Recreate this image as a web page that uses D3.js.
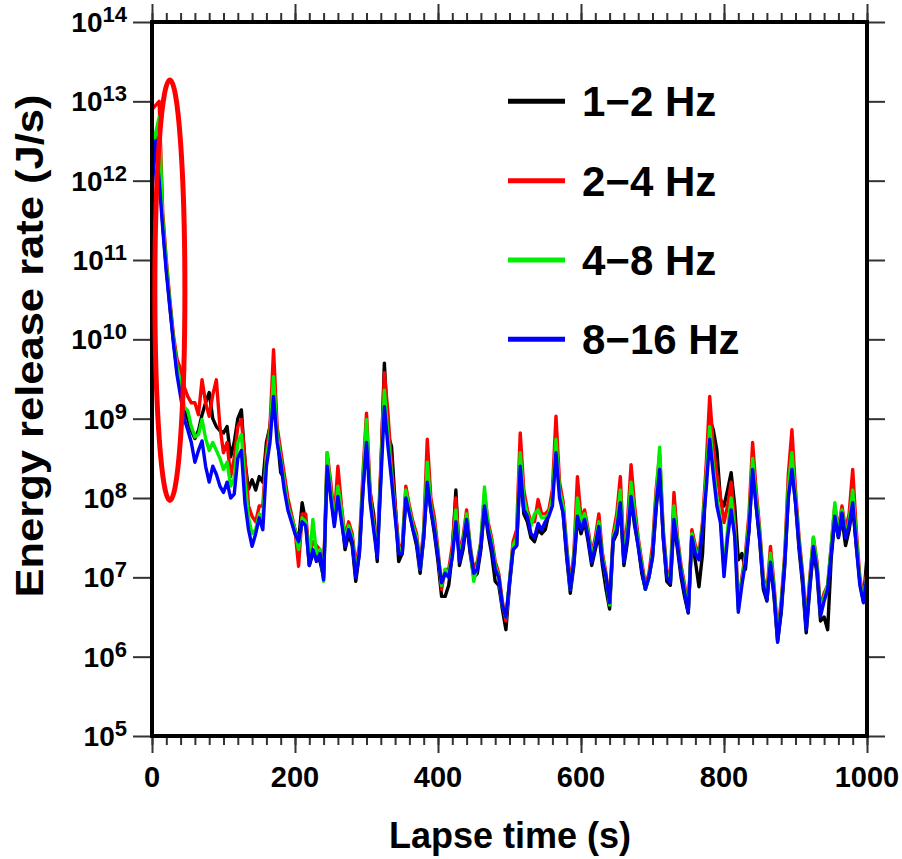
<!DOCTYPE html>
<html>
<head>
<meta charset="utf-8">
<script src="https://cdn.jsdelivr.net/npm/d3@7"></script>
<style>
  html, body { margin: 0; padding: 0; background: #fff; }
  svg { display: block; }
  text { font-family: Arial, "Liberation Sans", sans-serif; font-weight: bold; fill: #000; }
</style>
</head>
<body>
<script>
// ---------------- DATA ----------------
const seriesNames = ["1\u22122 Hz", "2\u22124 Hz", "4\u22128 Hz", "8\u221216 Hz"];
const seriesColors = ["#000000", "#ff0000", "#00ee00", "#0000ff"];
// lapse time samples (s), every 5 s from 0 to 1000
const lapseTimes = d3.range(0, 1001, 5);
// log10 of energy release rate (J/s)
const log_1_2Hz = [
  12.3,12.55,12.3,11.45,10.9,10.42,9.98,9.6,9.35,9.1,
  9.0,8.85,8.75,8.85,9.05,9.2,9.33,9.0,8.9,8.85,
  8.82,8.9,8.52,8.7,9.0,9.11,8.45,8.11,8.23,8.1,
  8.27,8.2,8.7,8.9,9.4,8.8,8.32,8.25,7.95,7.75,
  7.6,7.45,7.94,7.7,7.15,7.3,7.25,7.2,7.0,8.45,
  8.05,7.7,8.1,7.8,7.35,7.55,7.4,6.95,7.3,8.1,
  8.75,8.07,7.8,7.2,8.3,9.7,8.8,8.65,7.95,7.2,
  7.3,8.0,7.85,7.6,7.4,7.05,7.5,8.2,7.85,7.55,
  7.2,6.76,6.76,6.9,7.3,8.1,7.15,7.35,7.7,7.3,
  7.0,7.05,7.35,7.9,7.55,7.3,6.95,6.9,6.6,6.34,
  6.9,7.35,7.4,8.4,7.8,7.7,7.5,7.45,7.6,7.55,
  7.6,7.8,8.05,8.6,8.1,7.8,7.25,6.8,7.15,7.75,
  7.55,7.7,7.45,7.15,7.35,7.55,7.15,6.85,6.6,7.45,
  7.55,7.9,7.15,7.45,8.0,7.65,7.4,7.05,6.85,7.0,
  7.25,7.85,8.35,7.5,6.95,6.9,7.7,7.35,7.0,6.75,
  6.55,7.5,7.2,6.88,7.3,8.3,9.0,8.86,8.6,7.98,
  7.9,8.1,8.32,7.9,7.22,7.3,7.1,7.6,8.4,7.9,
  7.45,6.85,6.7,7.2,6.75,6.2,6.55,7.15,8.05,8.4,
  7.95,7.35,6.9,6.3,6.85,7.35,7.05,6.45,6.5,6.34,
  7.25,7.75,7.5,7.75,7.4,7.6,7.9,7.4,6.95,6.7,
  7.26];
const log_2_4Hz = [
  12.9,12.95,13.0,11.6,11.0,10.5,10.05,9.75,9.62,9.4,
  9.28,9.2,9.2,9.05,9.49,9.2,9.03,9.3,9.49,8.9,
  8.57,8.7,8.27,8.5,8.9,8.99,8.5,7.9,7.77,7.7,
  7.9,7.9,8.6,8.9,9.87,8.9,8.6,8.3,8.0,7.8,
  7.6,7.14,7.8,7.8,7.25,7.45,7.4,7.35,7.05,8.57,
  8.2,7.75,8.4,7.9,7.5,7.7,7.55,7.15,7.4,8.3,
  9.07,8.1,7.7,7.35,8.4,9.58,9.07,8.4,7.9,7.4,
  7.4,8.15,7.9,7.7,7.55,7.15,7.6,8.74,8.0,7.75,
  7.35,6.85,7.1,7.1,7.4,8.0,7.3,7.5,7.85,7.4,
  7.1,7.2,7.45,8.05,7.7,7.5,7.2,7.05,6.7,6.45,
  6.95,7.45,7.6,8.82,8.1,7.85,7.7,7.7,7.98,7.8,
  7.8,7.85,8.1,9.03,8.2,7.95,7.4,6.9,7.3,8.27,
  7.75,7.85,7.6,7.3,7.5,7.8,7.3,7.05,6.7,7.55,
  7.8,8.27,7.3,7.7,8.42,7.9,7.5,7.2,6.9,7.05,
  7.4,8.1,8.55,7.6,7.1,7.0,8.07,7.5,7.15,6.9,
  6.6,7.6,7.4,7.3,7.7,8.4,9.28,8.65,8.3,8.02,
  7.69,7.9,8.2,7.7,6.65,7.0,7.3,7.8,8.7,8.1,
  7.6,7.0,6.8,7.39,6.9,6.3,6.7,7.3,8.3,8.86,
  8.1,7.5,7.05,6.45,7.0,7.5,7.2,6.6,6.8,6.9,
  7.4,7.9,7.6,7.9,7.6,7.8,8.36,7.6,7.0,6.75,
  7.1];
const log_4_8Hz = [
  12.2,12.6,12.8,11.5,10.95,10.45,10.0,9.65,9.45,9.15,
  9.1,8.9,8.77,8.8,8.99,8.75,8.6,8.7,8.6,8.5,
  8.36,8.45,8.15,8.25,8.7,8.8,8.2,7.75,7.55,7.6,
  7.8,7.75,8.5,8.8,9.53,8.8,8.5,8.2,7.9,7.75,
  7.6,7.35,7.75,7.7,7.2,7.73,7.3,7.35,6.95,8.57,
  8.1,7.7,8.15,7.85,7.45,7.65,7.5,7.05,7.35,8.2,
  8.99,8.0,7.65,7.3,8.3,9.36,8.8,8.3,7.8,7.35,
  7.35,8.1,7.85,7.65,7.5,7.1,7.55,8.45,7.9,7.65,
  7.3,6.9,7.1,7.05,7.3,7.85,7.25,7.45,7.8,7.4,
  6.95,7.15,7.45,8.14,7.65,7.45,7.15,7.0,6.65,6.5,
  6.95,7.4,7.5,8.57,8.0,7.8,7.65,7.8,7.85,7.75,
  7.75,7.8,8.0,8.74,8.1,7.9,7.35,6.85,7.25,8.0,
  7.7,7.8,7.55,7.25,7.45,7.7,7.25,7.0,6.65,7.5,
  7.7,8.1,7.25,7.6,8.2,7.8,7.45,7.15,6.85,7.0,
  7.3,8.0,8.64,7.55,7.05,6.95,7.9,7.45,7.1,6.85,
  6.58,7.55,7.35,7.25,7.65,8.25,8.9,8.4,8.0,7.75,
  7.1,7.6,8.0,7.6,6.6,6.95,7.25,7.7,8.5,8.0,
  7.55,6.95,6.75,7.3,6.85,6.25,6.65,7.25,8.15,8.57,
  8.0,7.45,7.0,6.4,6.95,7.51,7.15,6.55,6.75,6.9,
  7.4,7.94,7.55,7.85,7.55,7.7,8.1,7.5,6.95,6.7,
  7.05];
const log_8_16Hz = [
  11.85,12.5,12.0,11.4,10.85,10.4,9.95,9.55,9.28,9.0,
  8.86,8.7,8.45,8.6,8.72,8.4,8.2,8.4,8.3,8.15,
  8.07,8.2,8.0,8.05,8.5,8.6,7.94,7.6,7.39,7.55,
  7.75,7.6,8.4,8.7,9.28,8.7,8.45,8.1,7.85,7.7,
  7.55,7.45,7.7,7.65,7.15,7.35,7.2,7.3,6.97,8.4,
  8.0,7.64,8.02,7.7,7.39,7.6,7.45,7.0,7.3,8.1,
  8.7,7.95,7.6,7.25,8.2,9.15,8.65,8.23,7.77,7.3,
  7.3,8.0,7.8,7.6,7.45,7.1,7.5,8.2,7.85,7.6,
  7.26,6.93,7.05,7.0,7.26,7.7,7.2,7.4,7.73,7.35,
  7.05,7.1,7.4,7.9,7.6,7.39,7.1,7.0,6.65,6.5,
  6.93,7.35,7.4,8.4,7.85,7.77,7.55,7.5,7.68,7.6,
  7.7,7.77,7.9,8.57,8.0,7.81,7.3,6.85,7.2,7.77,
  7.6,7.73,7.5,7.19,7.4,7.64,7.2,7.01,6.68,7.48,
  7.6,7.94,7.19,7.5,8.02,7.7,7.39,7.1,6.85,7.0,
  7.26,7.9,8.36,7.51,7.0,6.93,7.73,7.4,7.06,6.8,
  6.56,7.51,7.3,7.22,7.6,8.1,8.74,8.3,7.9,7.69,
  7.01,7.5,7.85,7.51,6.56,6.9,7.19,7.6,8.36,7.9,
  7.48,6.9,6.72,7.19,6.8,6.18,6.6,7.19,8.0,8.36,
  7.94,7.4,6.97,6.34,6.9,7.39,7.1,6.51,6.7,6.85,
  7.3,7.77,7.51,7.81,7.5,7.65,7.94,7.4,6.9,6.68,
  7.01];
const seriesLogs = [log_1_2Hz, log_2_4Hz, log_4_8Hz, log_8_16Hz];

// axis ticks
const yDecades = [5, 6, 7, 8, 9, 10, 11, 12, 13, 14];
const xMajorTicks = [0, 200, 400, 600, 800, 1000];
const xMinorTicks = d3.range(0, 1001, 20);

// annotation ellipse around the early coda (data units: s, log10 J/s)
const highlightTime = [4, 46];
const highlightLog = [7.97, 13.27];

// ---------------- LAYOUT ----------------
const W = 902, H = 859;
const plot = { left: 152, right: 867, top: 22, bottom: 736 };

const svg = d3.select("body").append("svg").attr("width", W).attr("height", H);

const x = d3.scaleLinear().domain([0, 1000]).range([plot.left, plot.right]);
const y = d3.scaleLog().domain([1e5, 1e14]).range([plot.bottom, plot.top]);

svg.append("defs").append("clipPath").attr("id", "clip")
  .append("rect")
  .attr("x", plot.left).attr("y", plot.top)
  .attr("width", plot.right - plot.left).attr("height", plot.bottom - plot.top);

// ---------------- AXES ----------------
const tickColor = "#333";
function styleAxis(g) {
  g.select(".domain").remove();
  g.selectAll(".tick line").attr("stroke", tickColor).attr("stroke-width", 2);
}

svg.append("g").attr("transform", `translate(${plot.left},0)`)
  .call(d3.axisLeft(y).tickValues(yDecades.map(d => Math.pow(10, d))).tickSize(19).tickFormat(""))
  .call(styleAxis);
svg.append("g").attr("transform", `translate(${plot.right},0)`)
  .call(d3.axisRight(y).tickValues(yDecades.map(d => Math.pow(10, d))).tickSize(18).tickFormat(""))
  .call(styleAxis);
svg.append("g").attr("transform", `translate(0,${plot.bottom})`)
  .call(d3.axisBottom(x).tickValues(xMinorTicks).tickSize(9).tickFormat(""))
  .call(styleAxis);
svg.append("g").attr("transform", `translate(0,${plot.bottom})`)
  .call(d3.axisBottom(x).tickValues(xMajorTicks).tickSize(17).tickFormat(""))
  .call(styleAxis);
svg.append("g").attr("transform", `translate(0,${plot.top})`)
  .call(d3.axisTop(x).tickValues(xMinorTicks).tickSize(9).tickFormat(""))
  .call(styleAxis);
svg.append("g").attr("transform", `translate(0,${plot.top})`)
  .call(d3.axisTop(x).tickValues(xMajorTicks).tickSize(18).tickFormat(""))
  .call(styleAxis);

// y tick labels: 10^n
const yLab = svg.append("g").selectAll("text").data(yDecades).join("text")
  .attr("x", 127)
  .attr("y", d => y(Math.pow(10, d)) + 10)
  .attr("text-anchor", "end")
  .style("font-size", "28px");
yLab.append("tspan").text("10");
yLab.append("tspan").attr("dy", -10).style("font-size", "22px").text(d => d);

// x tick labels
svg.append("g").selectAll("text").data(xMajorTicks).join("text")
  .attr("x", d => x(d))
  .attr("y", 787)
  .attr("text-anchor", "middle")
  .style("font-size", "29px")
  .text(d => d);

// axis titles
svg.append("text")
  .attr("x", 510)
  .attr("y", 848)
  .attr("text-anchor", "middle")
  .style("font-size", "36px")
  .text("Lapse time (s)");

svg.append("text")
  .attr("transform", `translate(43,346) rotate(-90)`)
  .attr("text-anchor", "middle")
  .attr("textLength", 503)
  .attr("lengthAdjust", "spacingAndGlyphs")
  .style("font-size", "38px")
  .text("Energy release rate (J/s)");

// ---------------- CURVES ----------------
const line = d3.line()
  .x((d, i) => x(lapseTimes[i]))
  .y(d => y(Math.pow(10, d)));

svg.append("g").attr("clip-path", "url(#clip)")
  .selectAll("path").data(seriesLogs).join("path")
  .attr("d", d => line(d))
  .attr("fill", "none")
  .attr("stroke", (d, i) => seriesColors[i])
  .attr("stroke-width", 3.4)
  .attr("stroke-linejoin", "round");

// frame
svg.append("rect")
  .attr("x", plot.left).attr("y", plot.top)
  .attr("width", plot.right - plot.left).attr("height", plot.bottom - plot.top)
  .attr("fill", "none").attr("stroke", "#000").attr("stroke-width", 4);

// ---------------- LEGEND ----------------
const legendRows = [13, 12, 11, 10]; // legend rows line up with decades
const leg = svg.append("g").selectAll("g").data(seriesNames).join("g")
  .attr("transform", (d, i) => `translate(508,${y(Math.pow(10, legendRows[i]))})`);
leg.append("line")
  .attr("x1", 0).attr("x2", 57).attr("y1", 0).attr("y2", 0)
  .attr("stroke", (d, i) => seriesColors[i]).attr("stroke-width", 5);
leg.append("text")
  .attr("x", 74).attr("y", 15)
  .style("font-size", "42px")
  .text(d => d);

// ---------------- ANNOTATION ----------------
const ex0 = x(highlightTime[0]), ex1 = x(highlightTime[1]);
const ey0 = y(Math.pow(10, highlightLog[0])), ey1 = y(Math.pow(10, highlightLog[1]));
svg.append("ellipse")
  .attr("cx", (ex0 + ex1) / 2).attr("cy", (ey0 + ey1) / 2)
  .attr("rx", (ex1 - ex0) / 2).attr("ry", (ey0 - ey1) / 2)
  .attr("fill", "none").attr("stroke", "#ff0000").attr("stroke-width", 5);
</script>
</body>
</html>
